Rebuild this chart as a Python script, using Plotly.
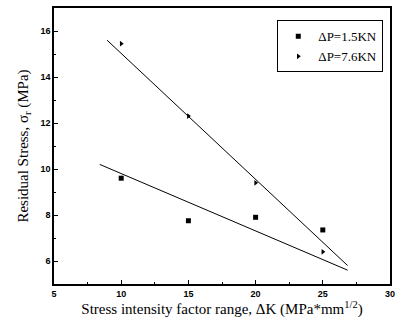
import plotly.graph_objects as go

# data
dk_values = [10, 15, 20, 25]
stress_15kn = [9.6, 7.75, 7.9, 7.35]
stress_76kn = [15.45, 12.3, 9.4, 6.4]
series_names = ["ΔP=1.5KN", "ΔP=7.6KN"]

fit_x_76 = [8.95, 26.85]
fit_y_76 = [15.6, 5.8]
fit_x_15 = [8.4, 26.85]
fit_y_15 = [10.2, 5.6]

x_ticks = [5, 10, 15, 20, 25, 30]
y_ticks = [6, 8, 10, 12, 14, 16]

fig = go.Figure()
fig.add_trace(go.Scatter(x=fit_x_76, y=fit_y_76, mode="lines",
                         line=dict(color="black", width=1), showlegend=False))
fig.add_trace(go.Scatter(x=fit_x_15, y=fit_y_15, mode="lines",
                         line=dict(color="black", width=1), showlegend=False))
fig.add_trace(go.Scatter(x=dk_values, y=stress_15kn, mode="markers", name=series_names[0],
                         marker=dict(symbol="square", size=5, color="black")))
fig.add_trace(go.Scatter(x=dk_values, y=stress_76kn, mode="markers", name=series_names[1],
                         marker=dict(symbol="triangle-right", size=5, color="black")))

axis_common = dict(showline=True, linecolor="black", linewidth=1.5, mirror=True,
                   ticks="inside", ticklen=4, tickcolor="black", showgrid=False,
                   zeroline=False,
                   tickfont=dict(family="Liberation Sans", size=9, color="black"))

fig.update_xaxes(range=[5, 30], tickvals=x_ticks, ticktext=["<b>%d</b>" % v for v in x_ticks],
                 minor=dict(ticks="inside", ticklen=2, dtick=2.5, tickcolor="black"),
                 title=dict(text="Stress intensity factor range, ΔK (MPa*mm<sup>1/2</sup>)",
                            font=dict(family="Liberation Serif", size=15, color="black"),
                            standoff=3),
                 **axis_common)
fig.update_yaxes(range=[5, 17], tickvals=y_ticks, ticktext=["<b>%d</b>" % v for v in y_ticks],
                 minor=dict(ticks="inside", ticklen=2, dtick=1, tickcolor="black"),
                 title=dict(text="Residual Stress, σ<sub>r</sub> (MPa)",
                            font=dict(family="Liberation Serif", size=15, color="black"),
                            standoff=8),
                 **axis_common)

fig.update_layout(width=401, height=323, margin=dict(l=54, r=6, t=6, b=39),
                  paper_bgcolor="white", plot_bgcolor="white",
                  legend=dict(x=0.98, y=0.955, xanchor="right", yanchor="top",
                              bordercolor="black", borderwidth=1, bgcolor="white",
                              font=dict(family="Liberation Serif", size=13, color="black"),
                              itemwidth=30, tracegroupgap=0))

fig.write_html("out.html")
